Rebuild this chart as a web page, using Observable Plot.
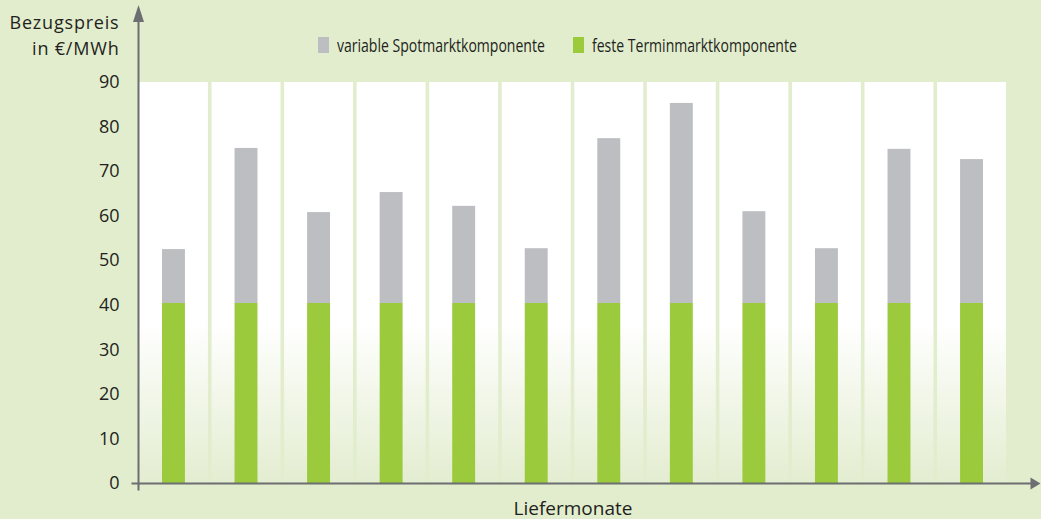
<!DOCTYPE html>
<html><head><meta charset="utf-8">
<script src="https://cdn.jsdelivr.net/npm/d3@7"></script>
<script src="https://cdn.jsdelivr.net/npm/@observablehq/plot@0.6"></script>
<style>
html,body{margin:0;padding:0;background:#e2edcd;overflow:hidden;}
#wrap{position:relative;width:1041px;height:519px;}
.legend{position:absolute;top:36px;height:18px;display:flex;align-items:center;font-family:"Open Sans",sans-serif;font-size:19px;color:#231f20;white-space:nowrap;}
.legend span{display:inline-block;transform:scaleX(0.738);transform-origin:left center;}
.sw{width:11px;height:16px;margin-right:8px;}
</style></head><body><div id="wrap"></div>
<script>
// ---- data ----
const months = ["Jan","Feb","Mär","Apr","Mai","Jun","Jul","Aug","Sep","Okt","Nov","Dez"];
const festeTermin = [40.4,40.4,40.4,40.4,40.4,40.4,40.4,40.4,40.4,40.4,40.4,40.4];
const variableSpot = [12.1,34.8,20.4,24.9,21.8,12.3,37.0,44.9,20.6,12.3,34.6,32.3];
const seriesNames = ["variable Spotmarktkomponente","feste Terminmarktkomponente"];
const seriesColors = ["#bdbec2","#9bca3c"];
const yTicks = [0,10,20,30,40,50,60,70,80,90];
const yTitle = "Bezugspreis\nin €/MWh";
const xTitle = "Liefermonate";

const rows = [];
months.forEach((m,i)=>{
  rows.push({month:m, series:seriesNames[1], value:festeTermin[i]});
  rows.push({month:m, series:seriesNames[0], value:variableSpot[i]});
});

const axisColor = "#6d6e71";
const textColor = "#231f20";
const bg = "#e2edcd";

const upArrow = {draw(ctx){ctx.moveTo(0,-9);ctx.lineTo(5.5,8);ctx.lineTo(-5.5,8);ctx.closePath();}};
const rightArrow = {draw(ctx){ctx.moveTo(5,0);ctx.lineTo(-5,-6);ctx.lineTo(-5,6);ctx.closePath();}};

const defsMark = () => {
  const defs = d3.create("svg:defs");
  const g = defs.append("linearGradient").attr("id","panelGrad").attr("x1",0).attr("y1",0).attr("x2",0).attr("y2",1);
  g.append("stop").attr("offset","0").attr("stop-color","#ffffff");
  g.append("stop").attr("offset","0.6").attr("stop-color","#ffffff");
  g.append("stop").attr("offset","1").attr("stop-color","#e3edd0");
  return defs.node();
};

const chart = Plot.plot({
  width:1041, height:519,
  marginLeft:139, marginRight:35, marginTop:82, marginBottom:36,
  style:{background:bg, fontFamily:"'Open Sans',sans-serif", color:textColor, overflow:"visible"},
  x:{domain:months, paddingInner:0.05, paddingOuter:0, round:false, axis:null},
  y:{domain:[0,d3.max(yTicks)], axis:null},
  color:{domain:seriesNames, range:seriesColors},
  marks:[
    defsMark,
    Plot.barY(months,{x:d=>d, y1:0, y2:d3.max(yTicks), fill:"url(#panelGrad)"}),
    Plot.barY(rows, Plot.stackY({order:null},{x:"month", y:"value", fill:"series", insetLeft:23, insetRight:23})),
    Plot.axisY({ticks:yTicks, tickSize:0, tickPadding:20, fontSize:18, label:null, fill:textColor}),
    Plot.frame({anchor:"left", stroke:axisColor, strokeWidth:2, insetLeft:-1, insetTop:-67, insetBottom:-6}),
    Plot.frame({anchor:"bottom", stroke:axisColor, strokeWidth:2, insetLeft:-7, insetRight:-28}),
    Plot.dot([0],{frameAnchor:"top-left", dx:-1, dy:-68.5, symbol:upArrow, fill:axisColor, stroke:null}),
    Plot.dot([0],{frameAnchor:"bottom-right", dx:29, symbol:rightArrow, fill:axisColor, stroke:null}),
    Plot.text([yTitle],{frameAnchor:"top-left", dx:-20, dy:-72, textAnchor:"end", lineAnchor:"top", lineHeight:1.45, fontSize:18, fill:textColor, text:d=>d}),
    Plot.text([xTitle],{frameAnchor:"bottom", dy:25, lineAnchor:"middle", fontSize:19, fill:textColor, text:d=>d})
  ]
});
chart.querySelectorAll("text").forEach(t=>{ if (t.textContent.startsWith("Bezugspreis")) t.setAttribute("letter-spacing","0.8"); });
const wrap = document.getElementById("wrap");
wrap.appendChild(chart);
const legendLeft = [318, 573];
seriesNames.forEach((name,i)=>{
  const item = document.createElement("div");
  item.className = "legend";
  item.style.left = legendLeft[i]+"px";
  const sw = document.createElement("div"); sw.className="sw"; sw.style.background = seriesColors[i];
  const tx = document.createElement("span"); tx.textContent = name;
  item.appendChild(sw); item.appendChild(tx);
  wrap.appendChild(item);
});
</script></body></html>
